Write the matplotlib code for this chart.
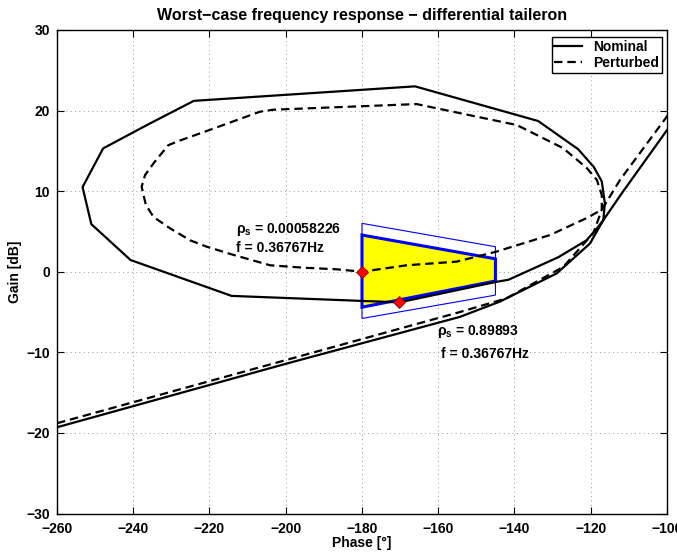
import matplotlib
matplotlib.use('Agg')
import matplotlib.pyplot as plt

plt.rcParams['font.family'] = ['Liberation Sans', 'DejaVu Sans']
plt.rcParams['font.weight'] = 'bold'
plt.rcParams['mathtext.fontset'] = 'custom'
plt.rcParams['mathtext.rm'] = 'Liberation Sans:bold'
plt.rcParams['mathtext.it'] = 'Liberation Sans'
plt.rcParams['mathtext.bf'] = 'Liberation Sans:bold'

# Nominal Nichols curve (phase [deg], gain [dB])
nom_phase = [-260, -199.8, -154.3, -143.8, -128.9, -120.2, -116.7,
             -116.3, -117.1, -119.2, -123.3, -133.8, -166.1, -224.1,
             -235.6, -247.9, -253.3, -251.0, -240.7, -214.2, -170.2,
             -144.7, -141.6, -128.5, -121.1, -118.0, -116.7, -111.9, -99.8]
nom_gain = [-19.3, -11.4, -5.6, -3.7, -0.2, 3.5, 6.4,
            8.5, 11.2, 13.0, 15.2, 18.7, 23.0, 21.2,
            18.4, 15.3, 10.5, 5.9, 1.45, -3.0, -3.8,
            -1.25, -1.0, 1.8, 3.9, 5.6, 6.4, 9.7, 17.7]

# Perturbed Nichols curve
pert_phase = [-260, -154.3, -142.1, -127.2, -119.3, -117.1,
              -117.1, -118.4, -121.1, -127.3, -139.4, -165.7, -203.3,
              -206.8, -219.9, -228.2, -230.8, -234.6, -236.9, -237.8,
              -236.7, -234.7, -230.4, -225.1, -220.7, -213.8, -204.1,
              -195.4, -186.6, -180.0, -168.3, -155.2, -144.7, -130.7,
              -121.1, -117.1, -112.3, -99.8]
pert_gain = [-18.8, -5.0, -3.3, 0.6, 4.8, 7.7,
             9.5, 11.4, 12.9, 15.35, 18.2, 20.8, 20.1,
             19.85, 17.6, 16.2, 15.7, 13.5, 12.0, 10.55,
             8.3, 6.8, 5.4, 3.9, 3.1, 2.1, 0.8,
             0.5, 0.3, 0.0, 0.8, 1.25, 2.5, 4.55,
             6.65, 7.7, 11.4, 19.4]

# Uncertainty region (inner filled and outer outline)
inner_phase = [-180, -145, -145, -180]
inner_gain = [4.55, 1.6, -1.15, -4.4]
outer_phase = [-180, -145, -145, -180]
outer_gain = [6.0, 3.1, -2.9, -5.8]

# Worst-case points
wc_phase = [-180, -170.2]
wc_gain = [0.0, -3.8]

x_ticks = list(range(-260, -99, 20))
y_ticks = list(range(-30, 31, 10))

fig = plt.figure(figsize=(6.77, 5.52), dpi=100)
ax = fig.add_axes([0.0842, 0.0697, 0.901, 0.8761])

ax.fill(inner_phase, inner_gain, facecolor='yellow', edgecolor='blue',
        linewidth=2.2, zorder=2)
ax.fill(outer_phase, outer_gain, facecolor='none', edgecolor='blue',
        linewidth=0.8, zorder=2)

ax.plot(nom_phase, nom_gain, color='black', linewidth=1.6,
        label='Nominal', zorder=3)
ax.plot(pert_phase, pert_gain, color='black', linewidth=1.6,
        linestyle=(0, (3.8, 2.2)), label='Perturbed', zorder=3)

ax.plot(wc_phase, wc_gain, linestyle='none', marker='D', markersize=6,
        markerfacecolor='red', markeredgecolor='darkred', markeredgewidth=0.6,
        zorder=4)

# annotations
ax.text(-213, 5.2, r'$\rho_\mathbf{s}$ = 0.00058226', fontsize=10,
        fontweight='bold', va='center', ha='left')
ax.text(-213, 2.95, 'f = 0.36767Hz', fontsize=10, fontweight='bold',
        va='center', ha='left')
ax.text(-160.2, -7.4, r'$\rho_\mathbf{s}$ = 0.89893', fontsize=10,
        fontweight='bold', va='center', ha='left')
ax.text(-159.3, -10.2, 'f = 0.36767Hz', fontsize=10, fontweight='bold',
        va='center', ha='left')

ax.set_xlim(-260, -100)
ax.set_ylim(-30, 30)
ax.set_xticks(x_ticks)
ax.set_yticks(y_ticks)
ax.set_xticklabels([str(t).replace('-', '\u2212') for t in x_ticks])
ax.set_yticklabels([str(t).replace('-', '\u2212') for t in y_ticks])
ax.grid(True, color='0.6', linestyle=(0, (1, 3.5)), linewidth=0.7)
ax.tick_params(direction='in', length=5, width=0.8, top=True, right=True,
               labelsize=10)
ax.tick_params(axis='x', pad=6)
ax.tick_params(axis='y', pad=5)
for sp in ax.spines.values():
    sp.set_linewidth(1.0)

ax.set_title('Worst\u2212case frequency response \u2212 differential taileron',
             fontsize=11.5, fontweight='bold', pad=7)
ax.set_xlabel('Phase [\u00b0]', fontsize=10, fontweight='bold', labelpad=0)
ax.set_ylabel('Gain [dB]', fontsize=10, fontweight='bold', labelpad=3)

leg = ax.legend(loc='upper right', bbox_to_anchor=(0.992, 0.985),
                borderaxespad=0, fontsize=10, handlelength=2.0,
                handletextpad=0.8, labelspacing=0.15, borderpad=0.2,
                fancybox=False, framealpha=1)
leg.get_frame().set_edgecolor('black')
leg.get_frame().set_linewidth(1.0)

fig.savefig('out.png', dpi=100)
